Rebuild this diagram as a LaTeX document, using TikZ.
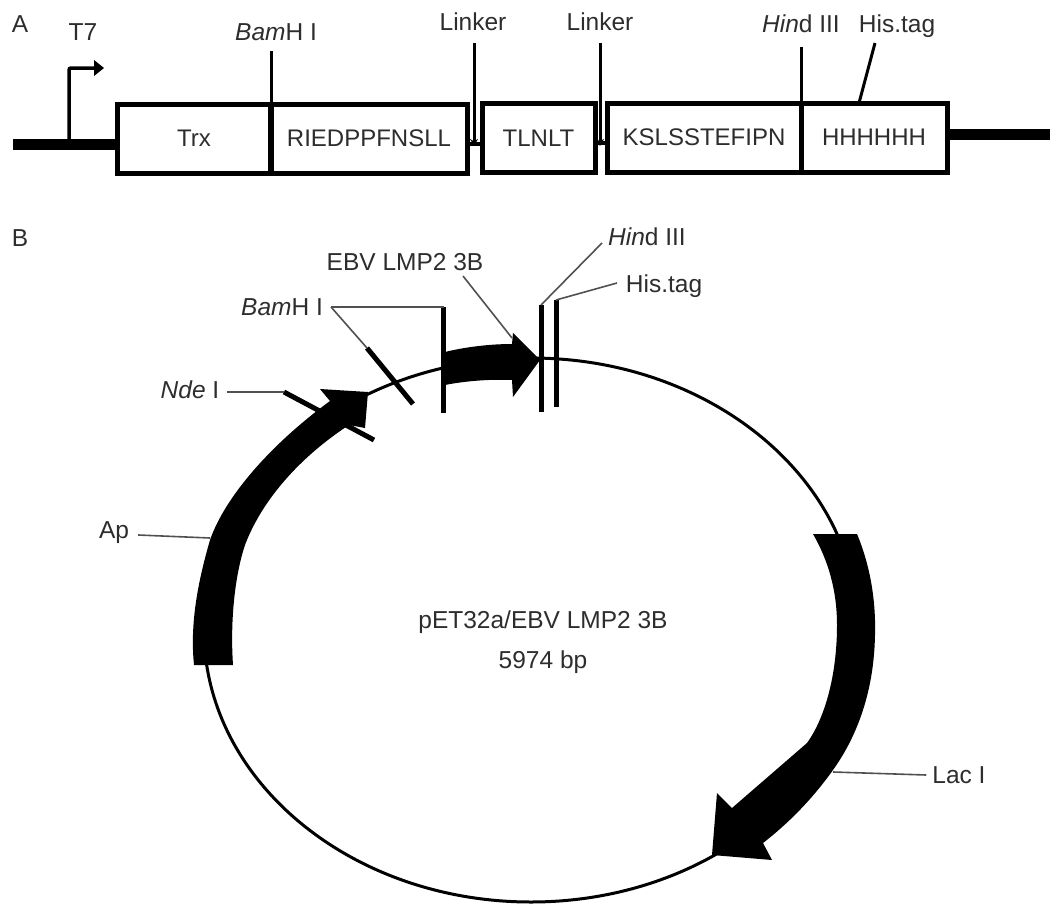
\documentclass[tikz,border=0pt]{standalone}
\usepackage{fontspec}
\setmainfont{Liberation Sans}
\usetikzlibrary{arrows.meta}
\definecolor{labelInk}{RGB}{45,45,45}
\definecolor{leaderGray}{RGB}{80,80,80}

\begin{document}
\begin{tikzpicture}[
    x=1pt,y=-1pt,
    lbl/.style={font=\fontsize{24.5}{28}\selectfont,text=labelInk,inner sep=0pt},
    segbox/.style={font=\fontsize{24}{28}\selectfont,text=labelInk,inner sep=0pt,outer sep=0pt,
                   draw=black,line width=5pt,fill=white,minimum height=69pt},
    backbone/.style={line width=11pt},
    tickline/.style={line width=3pt},
    sitemark/.style={line width=5pt},
    leader/.style={line width=1.6pt,draw=leaderGray}]
    \useasboundingbox (0,0) rectangle (1063,918);

    % Panel A
    \node[lbl] (panelA) at (20,24) {A};
    \coordinate (leftEnd) at (13,144);
    \coordinate (rightEnd) at (1050,134);
    \node[segbox,minimum width=154pt] (trx) at (194,138.5) {Trx};
    \node[segbox,minimum width=196pt] (rie) at (369,138.5) {RIEDPPFNSLL};
    \node[segbox,minimum width=113pt] (tln) at (538.5,138) {TLNLT};
    \node[segbox,minimum width=194pt] (ksl) at (704,137.5) {KSLSSTEFIPN};
    \node[segbox,minimum width=146pt] (hhh) at (874,137.5) {HHHHHH};
    \draw[backbone] (leftEnd) -- (leftEnd-|trx.west);
    \draw[backbone] (rightEnd-|hhh.east) -- (rightEnd);
    \draw[line width=4pt] (rie.east|-0,144) -- (tln.west|-0,144);
    \draw[line width=4pt] (tln.east|-0,143) -- (ksl.west|-0,143);

    % T7 promoter
    \node[lbl] (t7) at (83,32) {T7};
    \coordinate (t7base) at (69,144);
    \coordinate (t7tip) at (104,68);
    \draw[line width=3.5pt,rounded corners=2pt] (t7base) -- (69,68) -- (94,68);
    \fill (94,60) -- (t7tip) -- (94,76) -- cycle;

    % labels and their ticks
    \node[lbl] (bamA) at (276,32) {\textit{Bam}H I};
    \node[lbl] (linkA) at (473,22) {Linker};
    \node[lbl] (linkB) at (600,22) {Linker};
    \node[lbl] (hinA) at (801,24) {\textit{Hin}d III};
    \node[lbl] (hisA) at (897,26) {His.tag};
    \coordinate (bamAtop) at (271,51);
    \coordinate (hinAtop) at (801,47);
    \coordinate (linkAtop) at (474,43);
    \coordinate (linkBtop) at (600,43);
    \coordinate (linkAtip) at (474,146);
    \coordinate (linkBtip) at (600,146);
    \coordinate (hisAend) at (875,43);
    \draw[tickline] (bamAtop) -- (trx.north east);
    \draw[line width=6pt] (trx.north east) -- (trx.south east);
    \draw[tickline,-{Stealth[length=7pt,width=8pt]}] (linkAtop) -- (linkAtip);
    \draw[tickline,-{Stealth[length=7pt,width=8pt]}] (linkBtop) -- (linkBtip);
    \draw[tickline] (hinAtop) -- (ksl.north east);
    \draw[tickline] (hisAend) -- (859,103);

    % Panel B
    \node[lbl] (panelB) at (20,238) {B};
    \coordinate (centre) at (531,630);
    \draw[line width=3pt] (centre) ellipse [x radius=327pt,y radius=272pt];
    \node[lbl] (plasmid) at (543,622) {pET32a/EBV LMP2 3B};
    \node[lbl] (size) at (543,662) {5974 bp};

    % Ap
    \fill (194,665) .. controls (190,625) and (197,585) .. (210,540)
      .. controls (225,497) and (270,445) .. (330,401)
      -- (320,389) -- (368,392) -- (365,428) -- (349,425)
      .. controls (300,457) and (262,500) .. (245,545)
      .. controls (235,575) and (230,620) .. (233,665) -- cycle;

    % EBV LMP2 3B
    \fill (445,352) .. controls (465,347) and (490,344) .. (512,344)
      -- (513,333) -- (540,360) -- (513,397) -- (512,380)
      .. controls (490,379) and (465,381) .. (445,385) -- cycle;

    % Lac I
    \fill (857,534) .. controls (870,565) and (876,600) .. (875,635)
      .. controls (874,690) and (858,735) .. (833,770)
      .. controls (813,798) and (790,822) .. (763,843)
      -- (772,860) -- (712,855) -- (717,793) -- (732,808) -- (807,743)
      .. controls (825,718) and (837,675) .. (837,625)
      .. controls (837,590) and (828,560) .. (813,534) -- cycle;

    % restriction sites
    \coordinate (ndeTop) at (284,392);
    \coordinate (bamOneTop) at (367,348);
    \coordinate (bamTwoTop) at (443.5,307);
    \coordinate (hinTop) at (541,305);
    \coordinate (hisTop) at (556,300);
    \draw[sitemark] (ndeTop) -- (374,440);
    \draw[sitemark] (bamOneTop) -- (413,404);
    \draw[sitemark] (bamTwoTop) -- (443.5,413);
    \draw[sitemark] (hinTop) -- (541,412);
    \draw[sitemark] (hisTop) -- (556,407);

    % labels of panel B
    \node[lbl] (nde) at (190,390) {\textit{Nde} I};
    \node[lbl] (bamB) at (282,307) {\textit{Bam}H I};
    \node[lbl] (ebv) at (405,262) {EBV LMP2 3B};
    \node[lbl] (hinB) at (647,237) {\textit{Hin}d III};
    \node[lbl] (hisB) at (664,286) {His.tag};
    \node[lbl] (ap) at (114,533) {Ap};
    \node[lbl] (lac) at (959,775) {Lac I};
    \coordinate (apEnd) at (210,538);
    \coordinate (lacEnd) at (833,772);
    \coordinate (ebvEnd) at (512,338);
    \draw[leader] (nde.east) ++(8,2) -- (ndeTop);
    \draw[leader] (bamB.east) ++(8,0) -- (bamTwoTop);
    \draw[leader] (bamB.east) ++(8,0) -- (bamOneTop);
    \draw[leader] (463,276) -- (ebvEnd);
    \draw[leader] (602,243) -- (hinTop);
    \draw[leader] (617,283) -- (hisTop);
    \draw[leader] (ap.east) ++(9,2) -- (apEnd);
    \draw[leader] (lac.west) ++(-6,0) -- (lacEnd);
\end{tikzpicture}
\end{document}
